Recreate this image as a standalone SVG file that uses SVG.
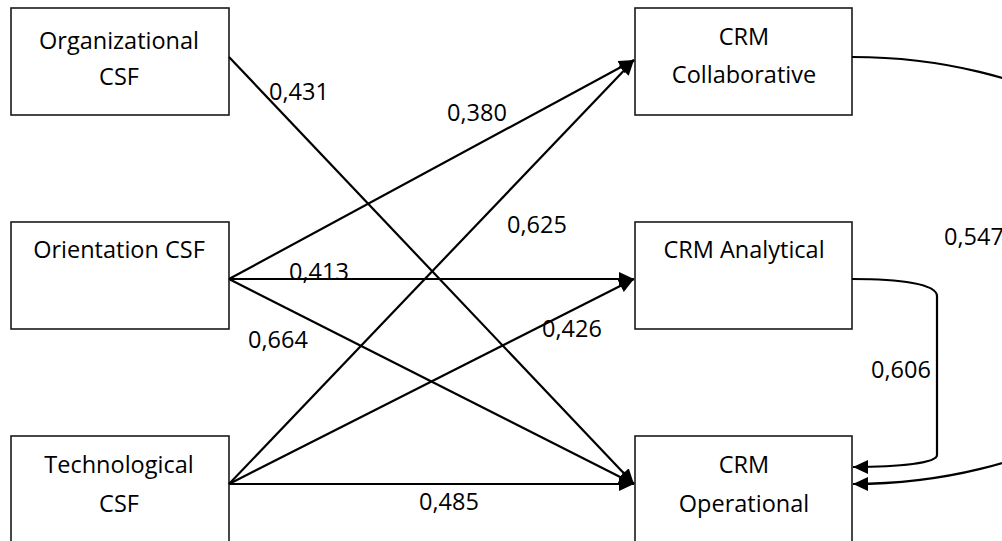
<svg xmlns="http://www.w3.org/2000/svg" width="1002" height="541" viewBox="0 0 1002 541">
<defs>
<marker id="ah" markerUnits="userSpaceOnUse" markerWidth="16" markerHeight="14" refX="15" refY="7" orient="auto">
<path d="M0,0 L15,7 L0,14 z" fill="#000"/>
</marker>
<style>
.box{fill:#fff;stroke:#1a1a1a;stroke-width:1.6}
.t{font-family:"Open Sans",sans-serif;font-size:23.5px;fill:#000;text-anchor:middle}
.l{font-family:"Open Sans",sans-serif;font-size:23.5px;fill:#000}
.c{fill:none;stroke:#000;stroke-width:2.2;marker-end:url(#ah)}
</style>
</defs>
<rect width="1002" height="541" fill="#fff"/>
<g id="org"><rect class="box" x="11" y="8" width="218" height="107"/><text class="t" x="119" y="49">Organizational</text><text class="t" x="119" y="85">CSF</text></g>
<g id="orient"><rect class="box" x="11" y="222" width="218" height="107"/><text class="t" x="119" y="258">Orientation CSF</text></g>
<g id="tech"><rect class="box" x="11" y="436" width="218" height="120"/><text class="t" x="119" y="473">Technological</text><text class="t" x="119" y="512">CSF</text></g>
<g id="collab"><rect class="box" x="635" y="8" width="217" height="107"/><text class="t" x="744" y="45">CRM</text><text class="t" x="744" y="83">Collaborative</text></g>
<g id="analyt"><rect class="box" x="635" y="222" width="217" height="107"/><text class="t" x="744" y="258">CRM Analytical</text></g>
<g id="oper"><rect class="box" x="635" y="436" width="217" height="120"/><text class="t" x="744" y="473">CRM</text><text class="t" x="744" y="512">Operational</text></g>
<g id="connectors">
<path class="c" d="M229,57 L634,484"/>
<path class="c" d="M229,279 L634,60"/>
<path class="c" d="M229,484 L634,60"/>
<path class="c" d="M229,279 L634,279"/>
<path class="c" d="M229,484 L634,279"/>
<path class="c" d="M229,279 L634,484"/>
<path class="c" d="M229,484 L634,484"/>
<path class="c" d="M852,279 C900,279 937,284 937,296 L937,455 C937,463 900,467 853,467"/>
<path class="c" d="M852,57 A346,213.5 0 0 1 853,484"/>
</g>
<g id="labels">
<text class="l" x="269" y="100">0,431</text>
<text class="l" x="447" y="121">0,380</text>
<text class="l" x="507" y="233">0,625</text>
<text class="l" x="289" y="280">0,413</text>
<text class="l" x="248" y="348">0,664</text>
<text class="l" x="542" y="337">0,426</text>
<text class="l" x="419" y="510">0,485</text>
<text class="l" x="871" y="378">0,606</text>
<text class="l" x="944" y="245">0,547</text>
</g>
</svg>
